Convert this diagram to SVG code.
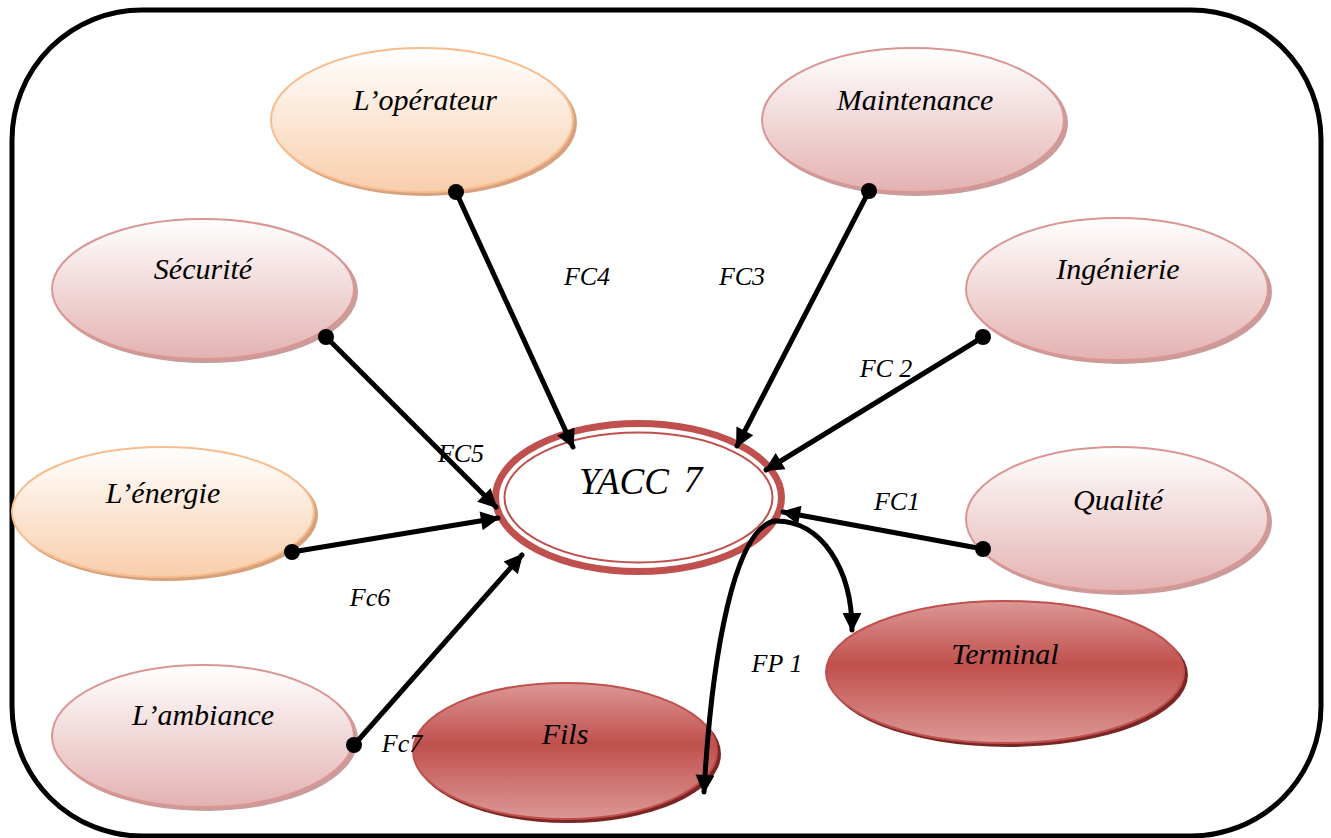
<svg xmlns="http://www.w3.org/2000/svg" width="1331" height="838" viewBox="0 0 1331 838">
  <style>
    .lbl { font-family: "Liberation Serif", "DejaVu Serif", serif; font-style: italic; fill: #000; text-anchor: middle; }
    .node { font-size: 30px; }
    .fc { font-size: 26px; }
    .link { fill: none; stroke: #000; stroke-width: 5; stroke-linecap: round; }
    .dot { fill: #000; }
    .pink { fill: url(#gPink); stroke: #d99694; stroke-width: 2; }
    .peach { fill: url(#gPeach); stroke: #f7bd8f; stroke-width: 2; }
    .red { fill: url(#gRed); stroke: #c0504d; stroke-width: 2; }
    .shPink { fill: #c99b9a; }
    .shPeach { fill: #d6a17c; }
    .shRed { fill: #7a2624; }
  </style>
  <defs>
    <linearGradient id="gPink" x1="0" y1="0" x2="0" y2="1">
      <stop offset="0" stop-color="#ffffff"/>
      <stop offset="1" stop-color="#e3b2b1"/>
    </linearGradient>
    <linearGradient id="gPeach" x1="0" y1="0" x2="0" y2="1">
      <stop offset="0" stop-color="#ffffff"/>
      <stop offset="1" stop-color="#f8ceab"/>
    </linearGradient>
    <linearGradient id="gRed" x1="0" y1="0" x2="0" y2="1">
      <stop offset="0" stop-color="#dc9896"/>
      <stop offset="0.45" stop-color="#c0504d"/>
      <stop offset="1" stop-color="#dc9896"/>
    </linearGradient>
    <marker id="arrow" viewBox="0 0 10 10" refX="9" refY="5" markerWidth="24" markerHeight="19" markerUnits="userSpaceOnUse" orient="auto">
      <path d="M0,0 L10,5 L0,10 Z" fill="#000"/>
    </marker>
  </defs>

  <!-- frame -->
  <rect x="12" y="10" width="1309" height="826" rx="130" ry="130" fill="#fff" stroke="#000" stroke-width="5"/>

  <!-- nodes -->
  <g id="operateur">
    <ellipse class="shPeach" cx="425" cy="123" rx="152" ry="73"/>
    <ellipse class="peach" cx="422" cy="120" rx="151" ry="72"/>
    <text class="lbl node" x="425" y="110">L’opérateur</text>
  </g>
  <g id="maintenance">
    <ellipse class="shPink" cx="916" cy="123" rx="152" ry="73"/>
    <ellipse class="pink" cx="913" cy="120" rx="151" ry="72"/>
    <text class="lbl node" x="915" y="110">Maintenance</text>
  </g>
  <g id="securite">
    <ellipse class="shPink" cx="206" cy="292" rx="152" ry="71"/>
    <ellipse class="pink" cx="203" cy="289" rx="151" ry="70"/>
    <text class="lbl node" x="203" y="279">Sécurité</text>
  </g>
  <g id="ingenierie">
    <ellipse class="shPink" cx="1120" cy="292" rx="152" ry="72"/>
    <ellipse class="pink" cx="1117" cy="289" rx="151" ry="71"/>
    <text class="lbl node" x="1118" y="279">Ingénierie</text>
  </g>
  <g id="energie">
    <ellipse class="shPeach" cx="166" cy="515" rx="152" ry="66"/>
    <ellipse class="peach" cx="163" cy="512" rx="151" ry="65"/>
    <text class="lbl node" x="163" y="503">L’énergie</text>
  </g>
  <g id="qualite">
    <ellipse class="shPink" cx="1120" cy="522" rx="152" ry="73"/>
    <ellipse class="pink" cx="1117" cy="519" rx="151" ry="72"/>
    <text class="lbl node" x="1118" y="510">Qualité</text>
  </g>
  <g id="ambiance">
    <ellipse class="shPink" cx="206" cy="739" rx="152" ry="72"/>
    <ellipse class="pink" cx="203" cy="736" rx="151" ry="71"/>
    <text class="lbl node" x="203" y="725">L’ambiance</text>
  </g>
  <g id="fils">
    <ellipse class="shRed" cx="568" cy="754" rx="153" ry="69"/>
    <ellipse class="red" cx="565" cy="751" rx="152" ry="68"/>
    <text class="lbl node" x="565" y="744">Fils</text>
  </g>
  <g id="terminal">
    <ellipse class="shRed" cx="1008" cy="675" rx="180" ry="72"/>
    <ellipse class="red" cx="1005" cy="672" rx="179" ry="71"/>
    <text class="lbl node" x="1005" y="664">Terminal</text>
  </g>
  <g id="yacc">
    <ellipse cx="638.5" cy="497.5" rx="143" ry="74" fill="#fff" stroke="#c0504d" stroke-width="7"/>
    <ellipse cx="638.5" cy="497.5" rx="134" ry="65" fill="none" stroke="#c0504d" stroke-width="2"/>
    <text class="lbl" x="624" y="494" font-size="37">YACC</text>
    <text class="lbl" x="693" y="492" font-size="37">7</text>
  </g>

  <!-- connectors -->
  <g id="connectors">
    <path class="link" d="M456,192 L573,447" marker-end="url(#arrow)"/>
    <path class="link" d="M869,191 L737,446" marker-end="url(#arrow)"/>
    <path class="link" d="M983,337 L766,470" marker-end="url(#arrow)"/>
    <path class="link" d="M326,337 L496,507" marker-end="url(#arrow)"/>
    <path class="link" d="M292,552 L498,518" marker-end="url(#arrow)"/>
    <path class="link" d="M983,549 L783,512" marker-end="url(#arrow)"/>
    <path class="link" d="M354,745 L522,555" marker-end="url(#arrow)"/>
    <path class="link" d="M775,521 C735,528 712,650 704,792" marker-end="url(#arrow)"/>
    <path class="link" d="M775,521 C822,520 852,570 852,630" marker-end="url(#arrow)"/>
    <circle class="dot" cx="456" cy="192" r="8"/>
    <circle class="dot" cx="869" cy="191" r="8"/>
    <circle class="dot" cx="983" cy="337" r="8"/>
    <circle class="dot" cx="326" cy="337" r="8"/>
    <circle class="dot" cx="292" cy="552" r="8"/>
    <circle class="dot" cx="983" cy="549" r="8"/>
    <circle class="dot" cx="354" cy="745" r="8"/>
  </g>

  <!-- connector labels -->
  <g id="labels">
    <text class="lbl fc" x="587" y="285">FC4</text>
    <text class="lbl fc" x="742" y="285">FC3</text>
    <text class="lbl fc" x="886" y="377">FC 2</text>
    <text class="lbl fc" x="461" y="462">FC5</text>
    <text class="lbl fc" x="897" y="510">FC1</text>
    <text class="lbl fc" x="370" y="606">Fc6</text>
    <text class="lbl fc" x="402" y="752">Fc7</text>
    <text class="lbl fc" x="777" y="672">FP 1</text>
  </g>
</svg>
